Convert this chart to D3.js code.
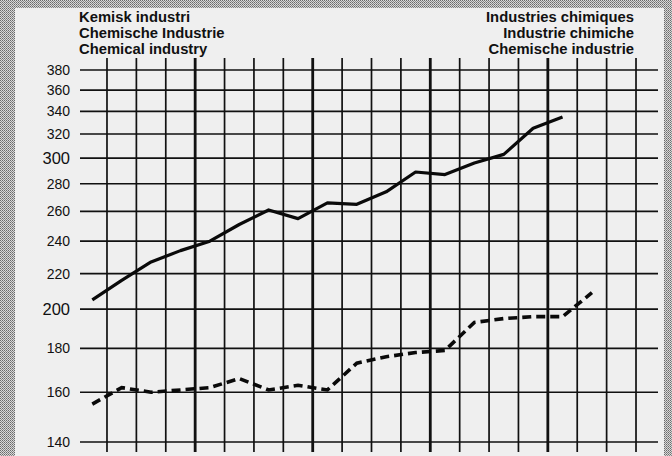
<!DOCTYPE html>
<html>
<head>
<meta charset="utf-8">
<script src="https://cdn.jsdelivr.net/npm/d3@7"></script>
<style>
  body { margin: 0; background: #efefef; }
  svg { display: block; }
  .tick-label { font-family: "Liberation Sans", Arial, sans-serif; fill: #111; }
  .title { font-family: "Liberation Sans", Arial, sans-serif; font-weight: bold; font-size: 14.8px; fill: #111; }
</style>
</head>
<body>
<div id="chart"></div>
<script>
// Data (quarterly index values, 5 years x 4 quarters)
var quarterCount = 20;
var solidValues = [205, 216, 227, 234, 240, 251, 261, 255, 266, 265, 274, 289, 287, 296, 303, 325, 335];
var dashedValues = [155, 162, 160, 161, 162, 166, 161, 163, 161, 173, 176, 178, 179, 193, 195, 196, 196, 209];
var yTicks = [140, 160, 180, 200, 220, 240, 260, 280, 300, 320, 340, 360, 380];
var bigTicks = [200, 300];
var titleLeft = ["Kemisk industri", "Chemische Industrie", "Chemical industry"];
var titleRight = ["Industries chimiques", "Industrie chimiche", "Chemische industrie"];

var svgWidth = 672;
var svgHeight = 456;

var svg = d3.select("#chart")
    .append("svg")
    .attr("width", svgWidth)
    .attr("height", svgHeight);

// scanned-paper look: dithered border strips
var defs = svg.append("defs");
var pat = defs.append("pattern")
    .attr("id", "dither")
    .attr("width", 2)
    .attr("height", 2)
    .attr("patternUnits", "userSpaceOnUse");
pat.append("rect").attr("width", 2).attr("height", 2).attr("fill", "#d8d8d8");
pat.append("rect").attr("width", 1).attr("height", 1).attr("fill", "#6a6a6a");
pat.append("rect").attr("x", 1).attr("y", 1).attr("width", 1).attr("height", 1).attr("fill", "#8a8a8a");

svg.append("rect").attr("width", svgWidth).attr("height", svgHeight).attr("fill", "url(#dither)");
svg.append("rect")
    .attr("x", 15).attr("y", 8)
    .attr("width", 649).attr("height", svgHeight - 8)
    .attr("fill", "#efefef");

// Scales
var x = d3.scaleLinear().domain([0, quarterCount]).range([77.6, 665.4]);
var y = d3.scaleLog().domain([140, 380]).range([442, 70]);

var grid = svg.append("g").attr("stroke", "#111");

// horizontal grid lines
grid.selectAll("line.h")
    .data(yTicks)
    .enter()
    .append("line")
    .attr("class", "h")
    .attr("x1", 80)
    .attr("x2", 658)
    .attr("y1", d => y(d))
    .attr("y2", d => y(d))
    .attr("stroke-width", 1.7);

// vertical grid lines (quarter boundaries, thick at year boundaries)
grid.selectAll("line.v")
    .data(d3.range(1, quarterCount))
    .enter()
    .append("line")
    .attr("class", "v")
    .attr("x1", d => x(d))
    .attr("x2", d => x(d))
    .attr("y1", 58)
    .attr("y2", 452)
    .attr("stroke-width", d => d % 4 === 0 ? 2.8 : 1.7);

// y tick labels
svg.selectAll("text.tick-label")
    .data(yTicks)
    .enter()
    .append("text")
    .attr("class", "tick-label")
    .attr("x", 70)
    .attr("y", d => y(d))
    .attr("dy", "0.36em")
    .attr("text-anchor", "end")
    .style("font-size", d => bigTicks.includes(d) ? "16.5px" : "14px")
    .text(d => d);

// lines
var line = d3.line()
    .x((d, i) => x(i + 0.5))
    .y(d => y(d));

svg.append("path")
    .datum(solidValues)
    .attr("d", line)
    .attr("fill", "none")
    .attr("stroke", "#0a0a0a")
    .attr("stroke-width", 3.2)
    .attr("stroke-linejoin", "round");

svg.append("path")
    .datum(dashedValues)
    .attr("d", line)
    .attr("fill", "none")
    .attr("stroke", "#0a0a0a")
    .attr("stroke-width", 3.6)
    .attr("stroke-dasharray", "9,5");

// titles
svg.selectAll("text.tl")
    .data(titleLeft)
    .enter()
    .append("text")
    .attr("class", "title tl")
    .attr("x", 79)
    .attr("y", (d, i) => 22 + i * 16)
    .text(d => d);

svg.selectAll("text.tr")
    .data(titleRight)
    .enter()
    .append("text")
    .attr("class", "title tr")
    .attr("x", 634)
    .attr("y", (d, i) => 22 + i * 16)
    .attr("text-anchor", "end")
    .text(d => d);
</script>
</body>
</html>
